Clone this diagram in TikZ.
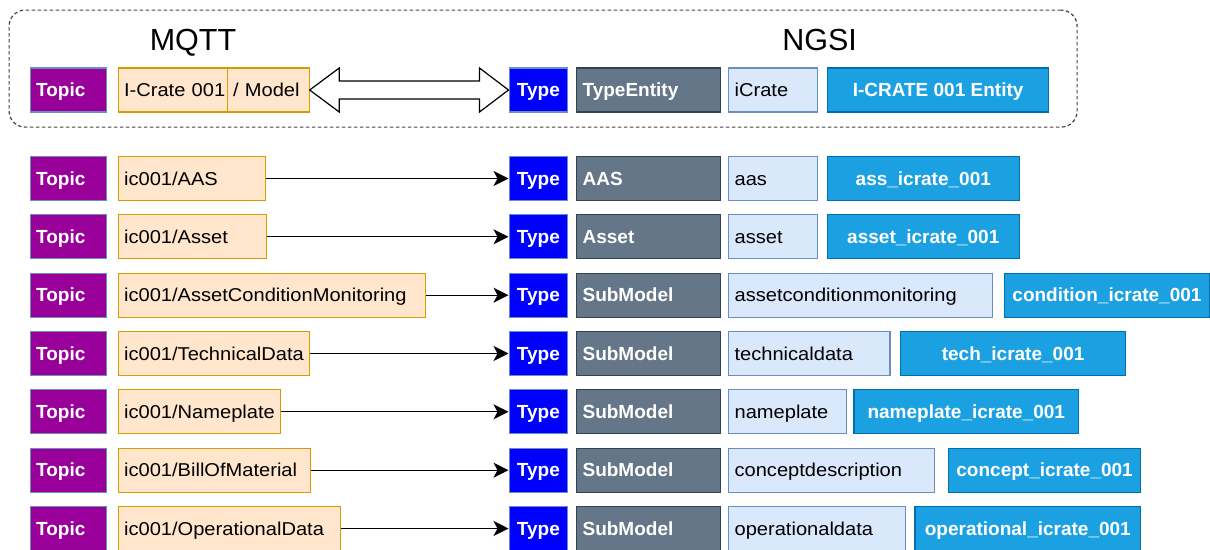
\documentclass[tikz,border=0pt]{standalone}
\usepackage{fontspec}
\setmainfont{Liberation Sans}
\newfontfamily\regfont[FakeStretch=1.08]{Liberation Sans}
\usetikzlibrary{arrows.meta,calc}

\definecolor{topicfill}{HTML}{990099}
\definecolor{lineblue}{HTML}{6C8EBF}
\definecolor{orfill}{HTML}{FFE6CC}
\definecolor{ordraw}{HTML}{D79B00}
\definecolor{typefill}{HTML}{0000FF}
\definecolor{slatefill}{HTML}{647687}
\definecolor{slatedraw}{HTML}{314354}
\definecolor{palefill}{HTML}{DAE8FC}
\definecolor{cyanfill}{HTML}{1BA1E2}
\definecolor{cyandraw}{HTML}{006EAF}
\definecolor{groupline}{HTML}{444444}

% box with left-aligned text: style, name, left x, centre y, width, text
\newcommand\lbox[6]{%
  \pgfmathsetmacro\tw{#5-12}%
  \node[#1, text width=\tw pt, align=left, minimum width=#5pt] (#2) at (#3,#4) {\mbox{#6}};}
% box with centred text: style, name, left x, centre y, width, text
\newcommand\cbox[6]{%
  \node[#1, minimum width=#5pt, align=center] (#2) at (#3,#4) {#6};}

\begin{document}
\begin{tikzpicture}[x=1pt,y=-1pt,
  box/.style={rectangle, minimum height=44pt, inner xsep=6pt, inner ysep=0pt,
              text height=13.4pt, text depth=0pt, line width=1.2pt, anchor=west},
  lbl/.style={font=\fontsize{19}{22}\selectfont\bfseries},
  txt/.style={font=\regfont\fontsize{18.6}{22}\selectfont},
  topicbox/.style={box, lbl, draw=lineblue, fill=topicfill, text=white},
  pathbox/.style={box, txt, draw=ordraw, fill=orfill, text=black},
  typebox/.style={box, lbl, inner xsep=0pt, draw=lineblue, fill=typefill, text=white},
  kindbox/.style={box, lbl, draw=slatedraw, fill=slatefill, text=white},
  idbox/.style={box, txt, draw=lineblue, fill=palefill, text=black},
  entbox/.style={box, lbl, inner xsep=0pt, draw=cyandraw, fill=cyanfill, text=white},
  link/.style={line width=1.3pt, -{Stealth[length=15pt,width=15pt,inset=4pt]}},
  title/.style={font=\fontsize{30.5}{34}\selectfont, anchor=base},
]
\useasboundingbox (0,0) rectangle (1210,549);

% group frame around the model mapping
\node[draw=groupline, line width=1.2pt, dash pattern=on 3.5pt off 2.5pt,
      rounded corners=16pt, minimum width=1068pt, minimum height=117pt,
      anchor=north west, inner sep=0pt] (group) at (8.5,9.5) {};
\node[title] (mqtt) at (193,50) {MQTT};
\node[title] (ngsi) at (819.6,50) {NGSI};

% model row
\lbox{topicbox}{topic0}{29.5}{90}{76}{Topic}
\lbox{pathbox,inner xsep=5pt}{crate0}{117.5}{90}{109}{I-Crate 001}
\lbox{pathbox}{model0}{226.5}{90}{82}{/ Model}
\cbox{typebox}{type0}{508.5}{90}{58.5}{Type}
\lbox{kindbox}{kind0}{576}{90}{144}{TypeEntity}
\lbox{idbox}{id0}{728}{90}{89}{iCrate}
\cbox{entbox}{ent0}{827}{90}{221}{I-CRATE 001 Entity}

% two-way block arrow between topic and entity type
\draw[line width=1.2pt, fill=white, line join=miter]
  (model0.east) -- ++(29.5,-22) -- ++(0,13)
  -- ($(type0.west)+(-29,-9)$) -- ++(0,-13) -- (type0.west)
  -- ($(type0.west)+(-29,22)$) -- ++(0,-13)
  -- ($(model0.east)+(29.5,9)$) -- ++(0,13) -- cycle;

% row 1
\lbox{topicbox}{topic1}{29.5}{178.5}{76}{Topic}
\lbox{pathbox}{path1}{117.5}{178.5}{147.5}{ic001/AAS}
\cbox{typebox}{type1}{508.5}{178.5}{58.5}{Type}
\lbox{kindbox}{kind1}{576}{178.5}{144}{AAS}
\lbox{idbox}{id1}{728}{178.5}{88.6}{aas}
\cbox{entbox}{ent1}{826.8}{178.5}{191.8}{ass\_icrate\_001}
\draw[link] (path1.east) -- (type1.west);

% row 2
\lbox{topicbox}{topic2}{29.5}{236.8}{76}{Topic}
\lbox{pathbox}{path2}{117.5}{236.8}{148.5}{ic001/Asset}
\cbox{typebox}{type2}{508.5}{236.8}{58.5}{Type}
\lbox{kindbox}{kind2}{576}{236.8}{144}{Asset}
\lbox{idbox}{id2}{728}{236.8}{88.6}{asset}
\cbox{entbox}{ent2}{826.8}{236.8}{191.8}{asset\_icrate\_001}
\draw[link] (path2.east) -- (type2.west);

% row 3
\lbox{topicbox}{topic3}{29.5}{295.2}{76}{Topic}
\lbox{pathbox}{path3}{117.5}{295.2}{307.5}{ic001/AssetConditionMonitoring}
\cbox{typebox}{type3}{508.5}{295.2}{58.5}{Type}
\lbox{kindbox}{kind3}{576}{295.2}{144}{SubModel}
\lbox{idbox}{id3}{728}{295.2}{264}{assetconditionmonitoring}
\cbox{entbox}{ent3}{1003.7}{295.2}{205.3}{condition\_icrate\_001}
\draw[link] (path3.east) -- (type3.west);

% row 4
\lbox{topicbox}{topic4}{29.5}{353.5}{76}{Topic}
\lbox{pathbox}{path4}{117.5}{353.5}{191}{ic001/TechnicalData}
\cbox{typebox}{type4}{508.5}{353.5}{58.5}{Type}
\lbox{kindbox}{kind4}{576}{353.5}{144}{SubModel}
\lbox{idbox}{id4}{728}{353.5}{161.3}{technicaldata}
\cbox{entbox}{ent4}{900}{353.5}{225}{tech\_icrate\_001}
\draw[link] (path4.east) -- (type4.west);

% row 5
\lbox{topicbox}{topic5}{29.5}{411.8}{76}{Topic}
\lbox{pathbox}{path5}{117.5}{411.8}{162}{ic001/Nameplate}
\cbox{typebox}{type5}{508.5}{411.8}{58.5}{Type}
\lbox{kindbox}{kind5}{576}{411.8}{144}{SubModel}
\lbox{idbox}{id5}{728}{411.8}{118}{nameplate}
\cbox{entbox}{ent5}{853.4}{411.8}{224.6}{nameplate\_icrate\_001}
\draw[link] (path5.east) -- (type5.west);

% row 6
\lbox{topicbox}{topic6}{29.5}{470.2}{76}{Topic}
\lbox{pathbox}{path6}{117.5}{470.2}{192.5}{ic001/BillOfMaterial}
\cbox{typebox}{type6}{508.5}{470.2}{58.5}{Type}
\lbox{kindbox}{kind6}{576}{470.2}{144}{SubModel}
\lbox{idbox}{id6}{728}{470.2}{206}{conceptdescription}
\cbox{entbox}{ent6}{948}{470.2}{192}{concept\_icrate\_001}
\draw[link] (path6.east) -- (type6.west);

% row 7
\lbox{topicbox}{topic7}{29.5}{528.5}{76}{Topic}
\lbox{pathbox}{path7}{117.5}{528.5}{222}{ic001/OperationalData}
\cbox{typebox}{type7}{508.5}{528.5}{58.5}{Type}
\lbox{kindbox}{kind7}{576}{528.5}{144}{SubModel}
\lbox{idbox}{id7}{728}{528.5}{176.6}{operationaldata}
\cbox{entbox}{ent7}{914.4}{528.5}{225.6}{operational\_icrate\_001}
\draw[link] (path7.east) -- (type7.west);
\end{tikzpicture}
\end{document}
